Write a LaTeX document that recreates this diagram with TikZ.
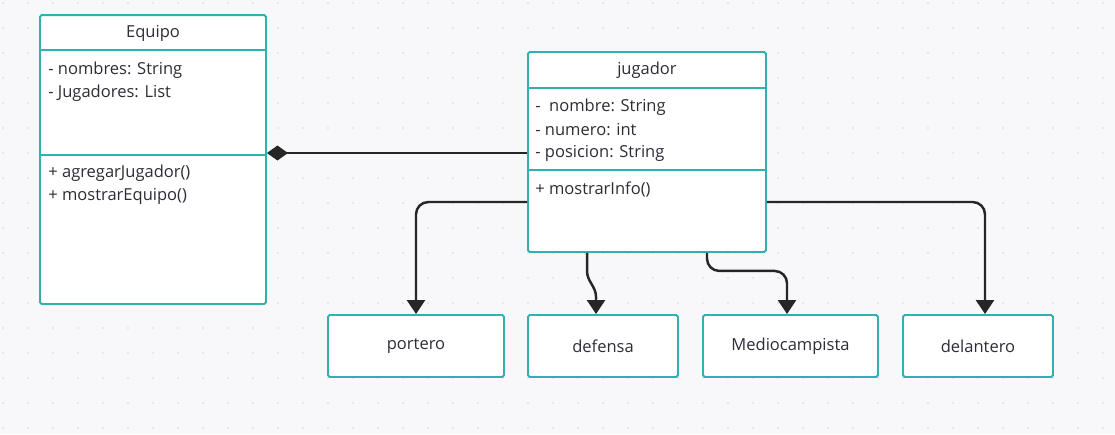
\documentclass[tikz,border=0pt]{standalone}
\usepackage{fontspec}
\setmainfont{Open Sans}
\usetikzlibrary{arrows.meta}

\definecolor{umlteal}{RGB}{48,176,176}
\definecolor{umltext}{RGB}{45,45,55}
\definecolor{canvas}{RGB}{248,248,250}
\definecolor{griddot}{RGB}{212,212,220}

\tikzset{
  umlbox/.style={draw=umlteal, fill=white, line width=1.1pt, rounded corners=1pt},
  sepline/.style={draw=umlteal, line width=1.1pt},
  member/.style={anchor=west, inner sep=0pt, text=umltext, font=\fontsize{9.4}{11}\selectfont},
  boxlabel/.style={text=umltext, font=\fontsize{9.4}{11}\selectfont},
  inherit/.style={draw=black!85, line width=1.4pt, rounded corners=7pt, -{Triangle[length=0.28cm,width=0.36cm]}},
  compose/.style={draw=black!85, line width=1.4pt, -{Diamond[length=0.42cm,width=0.3cm]}},
}

\begin{document}
\begin{tikzpicture}[x=0.02cm,y=-0.02cm]

      % Canvas and dot grid
      \fill[canvas] (0,0) rectangle (1115,434);
      \useasboundingbox (0,0) rectangle (1115,434);
      \foreach \gx in {3,28,...,1115} {
        \foreach \gy in {3,28,...,434} {
          \fill[griddot] (\gx,\gy) circle (0.9);
        }
      }

      % Define the class boxes
      \node[umlbox, minimum width=4.52cm, minimum height=5.78cm] (equipo) at (153,159.5) {};
      \node[umlbox, minimum width=4.76cm, minimum height=4cm] (jugador) at (647,152) {};

      \draw[sepline] (equipo.west |- 0,50) -- (equipo.east |- 0,50);
      \draw[sepline] (equipo.west |- 0,155) -- (equipo.east |- 0,155);
      \draw[sepline] (jugador.west |- 0,88) -- (jugador.east |- 0,88);
      \draw[sepline] (jugador.west |- 0,170) -- (jugador.east |- 0,170);

      \node[boxlabel] (equipotitle) at (153,33) {Equipo};
      \node[member] (nombres) at (48,70) {- nombres: String};
      \node[member] (jugadores) at (48,93) {- Jugadores: List};
      \node[member] (agregar) at (48,173) {+ agregarJugador()};
      \node[member] (mostrareq) at (48,196) {+ mostrarEquipo()};

      \node[boxlabel] (jugadortitle) at (647,70) {jugador};
      \node[member] (nombre) at (535,107) {-\ \ nombre: String};
      \node[member] (numero) at (535,130) {- numero: int};
      \node[member] (posicion) at (535,153) {- posicion: String};
      \node[member] (mostrarinfo) at (535,189) {+ mostrarInfo()};

      % Define the subclass boxes
      \node[umlbox, boxlabel, minimum width=3.52cm, minimum height=1.24cm] (portero) at (416,346) {portero};
      \node[umlbox, boxlabel, minimum width=3cm, minimum height=1.24cm] (defensa) at (603,346) {defensa};
      \node[umlbox, boxlabel, minimum width=3.5cm, minimum height=1.24cm] (medio) at (790.5,346) {Mediocampista};
      \node[umlbox, boxlabel, minimum width=3cm, minimum height=1.24cm] (delantero) at (978,346) {delantero};

      % Draw the edges
      \draw[compose] (jugador.west |- 0,153) -- (equipo.east |- 0,153);
      \draw[inherit] (jugador.west |- 0,202) -| (portero.north);
      \draw[inherit, sharp corners] ([xshift=-1.2cm]jugador.south) -- ++(0,18) to[out=-90,in=90] ++(9,26) -- ([xshift=-0.14cm]defensa.north);
      \draw[inherit] ([xshift=1.2cm]jugador.south) -- ++(0,18) -| ([xshift=-0.07cm]medio.north);
      \draw[inherit] (jugador.east |- 0,202) -| ([xshift=0.14cm]delantero.north);
  \end{tikzpicture}
\end{document}
